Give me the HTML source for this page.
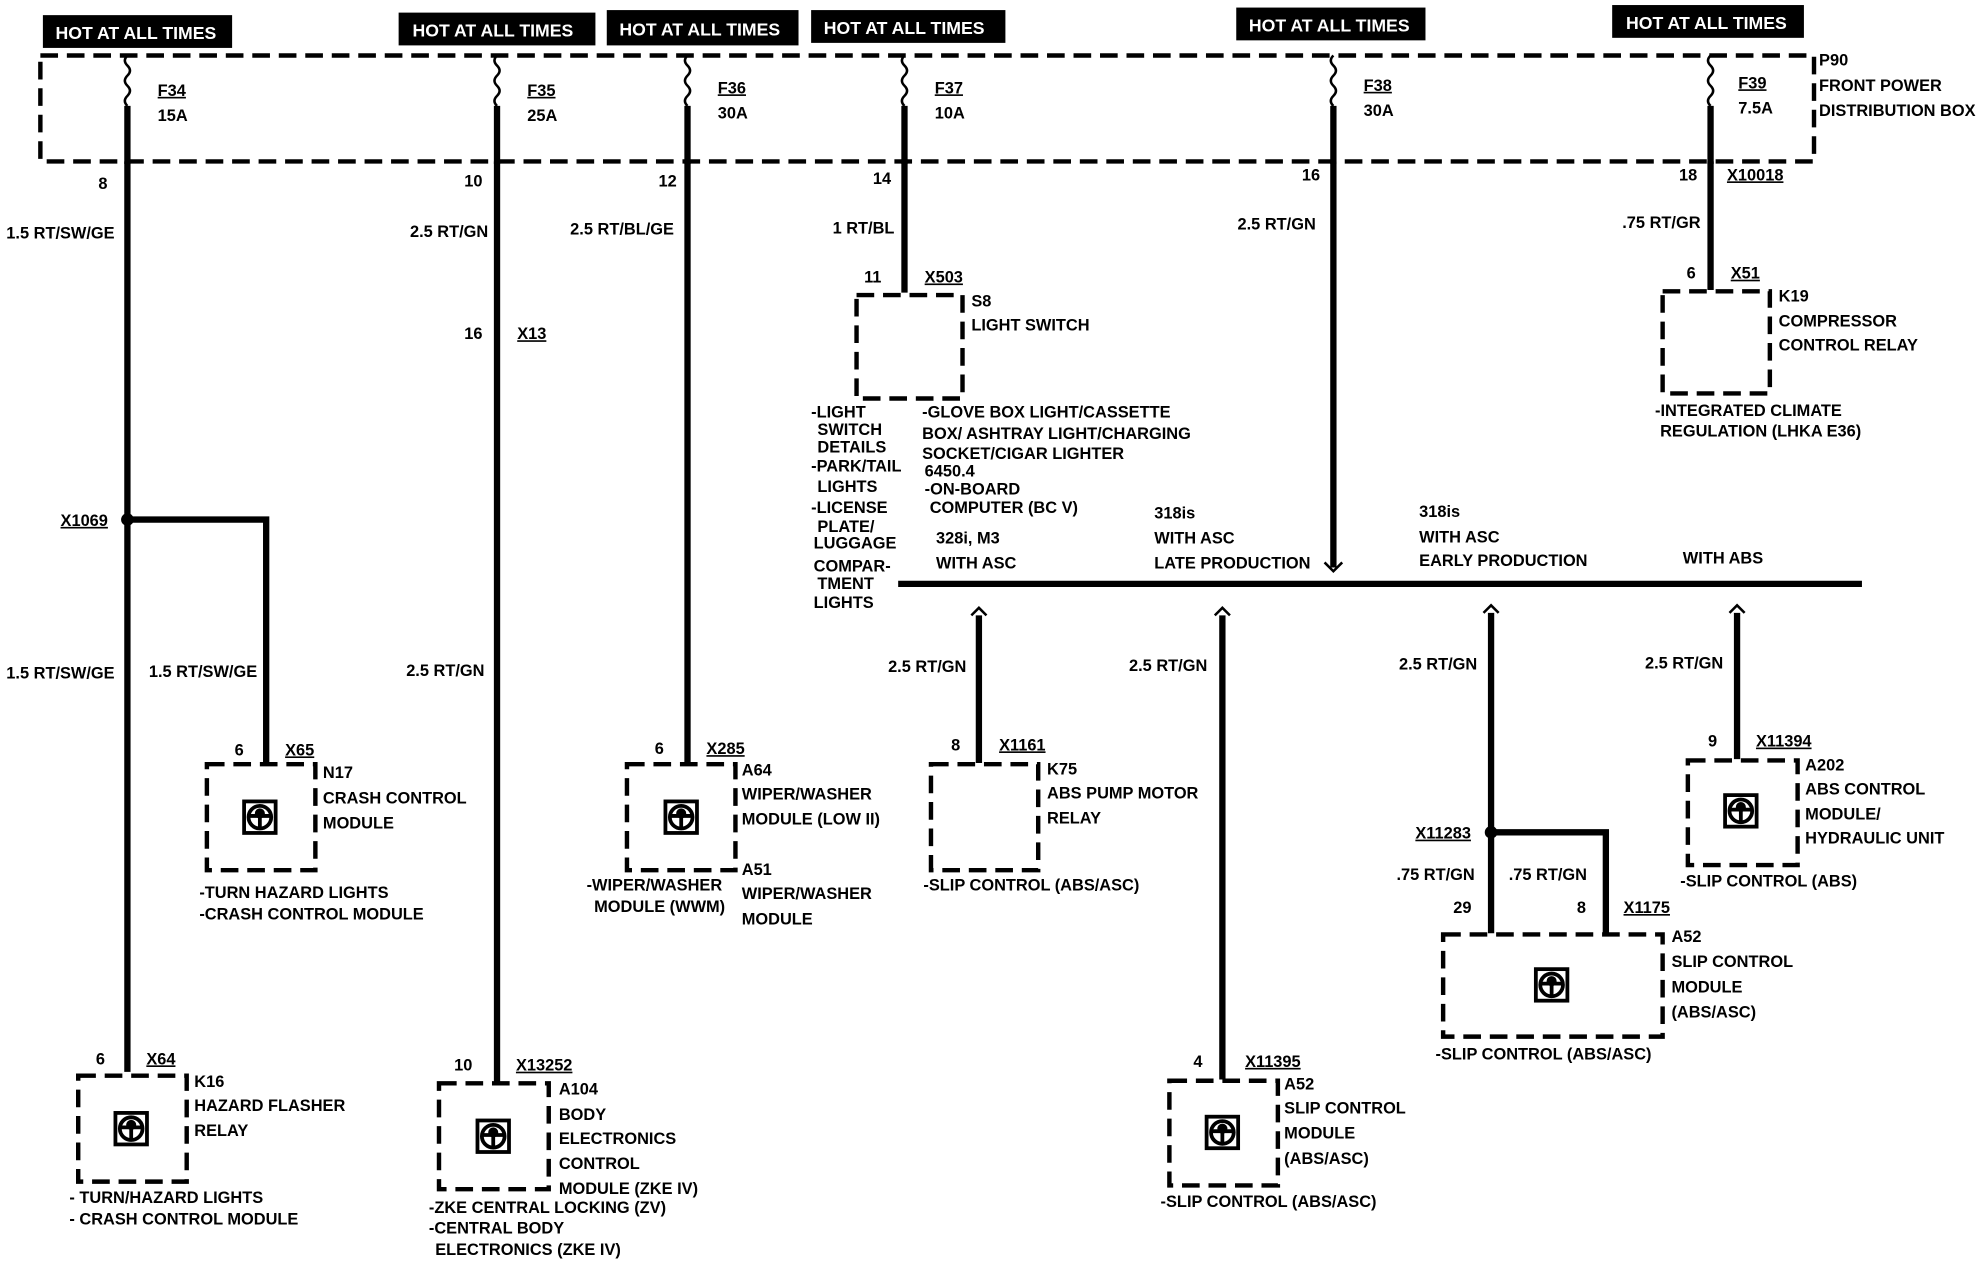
<!DOCTYPE html>
<html><head><meta charset="utf-8"><style>
html,body{margin:0;padding:0;background:#fff;}
svg{display:block;}
text{font-family:"Liberation Sans",sans-serif;font-weight:bold;font-size:13px;fill:#000;}
.w{fill:#fff;font-size:14px;}
.box{fill:none;stroke:#000;stroke-width:3.5;stroke-dasharray:14 7;}
.wire{stroke:#000;stroke-width:5;fill:none;}
.u{text-decoration:underline;}
</style></head><body>
<svg width="1978" height="1280" viewBox="0 0 1568 1015" preserveAspectRatio="none" xmlns="http://www.w3.org/2000/svg">
<defs>
<g id="ic"><rect x="-14" y="-14" width="28" height="28" fill="#000"/><rect x="-11" y="-11" width="22" height="22" fill="#fff"/><circle cx="0" cy="0" r="9" fill="none" stroke="#000" stroke-width="3"/><path d="M-9,-1 H9 M0,-1 V9" stroke="#000" stroke-width="3"/><circle cx="0" cy="-3" r="4" fill="#000"/></g>
<g id="fz"><path d="M0,44 q-4,4 0,8 q4,4 0,8 q-4,4 0,8 q4,4 0,8 q-4,4 0,8" stroke="#000" stroke-width="2" fill="none"/><path d="M0,84 V130" stroke="#000" stroke-width="5"/></g>
</defs>
<!-- HOT labels -->
<g>
<rect x="34" y="12" width="150" height="26" fill="#000"/><text class="w" x="44" y="31">HOT AT ALL TIMES</text>
<rect x="316" y="10" width="156" height="26" fill="#000"/><text class="w" x="327" y="29">HOT AT ALL TIMES</text>
<rect x="481" y="8" width="152" height="28" fill="#000"/><text class="w" x="491" y="28">HOT AT ALL TIMES</text>
<rect x="643" y="8" width="154" height="26" fill="#000"/><text class="w" x="653" y="27">HOT AT ALL TIMES</text>
<rect x="980" y="6" width="150" height="26" fill="#000"/><text class="w" x="990" y="25">HOT AT ALL TIMES</text>
<rect x="1278" y="4" width="152" height="26" fill="#000"/><text class="w" x="1289" y="23">HOT AT ALL TIMES</text>
</g>
<rect x="32" y="44" width="1406" height="84" class="box" stroke-width="4"/>
<text x="1442" y="52">P90</text><text x="1442" y="72">FRONT POWER</text><text x="1442" y="92">DISTRIBUTION BOX</text>
<!-- fuses -->
<use href="#fz" x="101"/><use href="#fz" x="394"/><use href="#fz" x="545"/><use href="#fz" x="717"/><use href="#fz" x="1057"/><use href="#fz" x="1356"/>
<text x="125" y="76" class="u">F34</text><text x="125" y="96">15A</text>
<text x="418" y="76" class="u">F35</text><text x="418" y="96">25A</text>
<text x="569" y="74" class="u">F36</text><text x="569" y="94">30A</text>
<text x="741" y="74" class="u">F37</text><text x="741" y="94">10A</text>
<text x="1081" y="72" class="u">F38</text><text x="1081" y="92">30A</text>
<text x="1378" y="70" class="u">F39</text><text x="1378" y="90">7.5A</text>
<!-- wire 1 -->
<path class="wire" d="M101,128 V850"/>
<path class="wire" d="M101,412 H211 V605"/>
<circle cx="101" cy="412" r="5" fill="#000"/>
<text x="78" y="150">8</text><text x="5" y="189">1.5 RT/SW/GE</text>
<text x="48" y="417" class="u">X1069</text>
<text x="5" y="538">1.5 RT/SW/GE</text><text x="118" y="537">1.5 RT/SW/GE</text>
<text x="186" y="599">6</text><text x="226" y="599" class="u">X65</text>
<rect x="164" y="606" width="86" height="84" class="box"/><use href="#ic" x="206" y="648"/>
<text x="256" y="617">N17</text><text x="256" y="637">CRASH CONTROL</text><text x="256" y="657">MODULE</text>
<text x="158" y="712">-TURN HAZARD LIGHTS</text><text x="158" y="729">-CRASH CONTROL MODULE</text>
<text x="76" y="844">6</text><text x="116" y="844" class="u">X64</text>
<rect x="62" y="853" width="86" height="84" class="box"/><use href="#ic" x="104" y="895"/>
<text x="154" y="862">K16</text><text x="154" y="881">HAZARD FLASHER</text><text x="154" y="901">RELAY</text>
<text x="55" y="954">- TURN/HAZARD LIGHTS</text><text x="55" y="971">- CRASH CONTROL MODULE</text>
<!-- wire 2 -->
<path class="wire" d="M394,128 V858"/>
<text x="368" y="148">10</text><text x="325" y="188">2.5 RT/GN</text>
<text x="368" y="269">16</text><text x="410" y="269" class="u">X13</text>
<text x="322" y="536">2.5 RT/GN</text>
<text x="360" y="849">10</text><text x="409" y="849" class="u">X13252</text>
<rect x="348" y="859" width="87" height="84" class="box"/><use href="#ic" x="391" y="901"/>
<text x="443" y="868">A104</text><text x="443" y="888">BODY</text><text x="443" y="907">ELECTRONICS</text><text x="443" y="927">CONTROL</text><text x="443" y="947">MODULE (ZKE IV)</text>
<text x="340" y="962">-ZKE CENTRAL LOCKING (ZV)</text><text x="340" y="978">-CENTRAL BODY</text><text x="345" y="995">ELECTRONICS (ZKE IV)</text>
<!-- wire 3 -->
<path class="wire" d="M545,128 V605"/>
<text x="522" y="148">12</text><text x="452" y="186">2.5 RT/BL/GE</text>
<text x="519" y="598">6</text><text x="560" y="598" class="u">X285</text>
<rect x="497" y="606" width="86" height="84" class="box"/><use href="#ic" x="540" y="648"/>
<text x="588" y="615">A64</text><text x="588" y="634">WIPER/WASHER</text><text x="588" y="654">MODULE (LOW II)</text>
<text x="588" y="694">A51</text><text x="588" y="713">WIPER/WASHER</text><text x="588" y="733">MODULE</text>
<text x="465" y="706">-WIPER/WASHER</text><text x="471" y="723">MODULE (WWM)</text>
<!-- wire 4 -->
<path class="wire" d="M717,128 V232"/>
<text x="692" y="146">14</text><text x="660" y="185">1 RT/BL</text>
<text x="685" y="224">11</text><text x="733" y="224" class="u">X503</text>
<rect x="679" y="234" width="84" height="82" class="box"/>
<text x="770" y="243">S8</text><text x="770" y="262">LIGHT SWITCH</text>
<text x="643" y="331">-LIGHT</text><text x="648" y="345">SWITCH</text><text x="648" y="359">DETAILS</text><text x="643" y="374">-PARK/TAIL</text><text x="648" y="390">LIGHTS</text><text x="643" y="407">-LICENSE</text><text x="648" y="422">PLATE/</text><text x="645" y="435">LUGGAGE</text><text x="645" y="453">COMPAR-</text><text x="648" y="467">TMENT</text><text x="645" y="482">LIGHTS</text>
<text x="731" y="331">-GLOVE BOX LIGHT/CASSETTE</text><text x="731" y="348">BOX/ ASHTRAY LIGHT/CHARGING</text><text x="731" y="364">SOCKET/CIGAR LIGHTER</text><text x="733" y="378">6450.4</text><text x="733" y="392">-ON-BOARD</text><text x="737" y="407">COMPUTER (BC V)</text>
<!-- wire 5 -->
<path class="wire" d="M1057,128 V450"/>
<path d="M1050,446 L1057,453 L1064,446" stroke="#000" stroke-width="2" fill="none"/>
<path class="wire" d="M712,463 H1476" stroke-width="4"/>
<text x="1032" y="143">16</text><text x="981" y="182">2.5 RT/GN</text>
<text x="742" y="431">328i, M3</text><text x="742" y="451">WITH ASC</text>
<text x="915" y="411">318is</text><text x="915" y="431">WITH ASC</text><text x="915" y="451">LATE PRODUCTION</text>
<text x="1125" y="410">318is</text><text x="1125" y="430">WITH ASC</text><text x="1125" y="449">EARLY PRODUCTION</text>
<text x="1334" y="447">WITH ABS</text>
<!-- branch K75 -->
<path class="wire" d="M776,488 V605"/><path d="M770,488 L776,482 L782,488" stroke="#000" stroke-width="2" fill="none"/>
<text x="704" y="533">2.5 RT/GN</text>
<text x="754" y="595">8</text><text x="792" y="595" class="u">X1161</text>
<rect x="738" y="606" width="85" height="84" class="box"/>
<text x="830" y="614">K75</text><text x="830" y="633">ABS PUMP MOTOR</text><text x="830" y="653">RELAY</text>
<text x="732" y="706">-SLIP CONTROL (ABS/ASC)</text>
<!-- branch A52 lower -->
<path class="wire" d="M969,488 V856"/><path d="M963,488 L969,482 L975,488" stroke="#000" stroke-width="2" fill="none"/>
<text x="895" y="532">2.5 RT/GN</text>
<text x="946" y="846">4</text><text x="987" y="846" class="u">X11395</text>
<rect x="927" y="857" width="86" height="83" class="box"/><use href="#ic" x="969" y="898"/>
<text x="1018" y="864">A52</text><text x="1018" y="883">SLIP CONTROL</text><text x="1018" y="903">MODULE</text><text x="1018" y="923">(ABS/ASC)</text>
<text x="920" y="957">-SLIP CONTROL (ABS/ASC)</text>
<!-- branch A52 upper -->
<path class="wire" d="M1182,486 V740"/><path d="M1176,486 L1182,480 L1188,486" stroke="#000" stroke-width="2" fill="none"/>
<path class="wire" d="M1182,660 H1273 V740"/>
<circle cx="1182" cy="660" r="5" fill="#000"/>
<text x="1109" y="531">2.5 RT/GN</text>
<text x="1122" y="665" class="u">X11283</text>
<text x="1107" y="698">.75 RT/GN</text><text x="1196" y="698">.75 RT/GN</text>
<text x="1152" y="724">29</text><text x="1250" y="724">8</text><text x="1287" y="724" class="u">X1175</text>
<rect x="1144" y="741" width="174" height="81" class="box"/><use href="#ic" x="1230" y="781"/>
<text x="1325" y="747">A52</text><text x="1325" y="767">SLIP CONTROL</text><text x="1325" y="787">MODULE</text><text x="1325" y="807">(ABS/ASC)</text>
<text x="1138" y="840">-SLIP CONTROL (ABS/ASC)</text>
<!-- branch A202 -->
<path class="wire" d="M1377,486 V602"/><path d="M1371,486 L1377,480 L1383,486" stroke="#000" stroke-width="2" fill="none"/>
<text x="1304" y="530">2.5 RT/GN</text>
<text x="1354" y="592">9</text><text x="1392" y="592" class="u">X11394</text>
<rect x="1338" y="603" width="87" height="83" class="box"/><use href="#ic" x="1380" y="643"/>
<text x="1431" y="611">A202</text><text x="1431" y="630">ABS CONTROL</text><text x="1431" y="650">MODULE/</text><text x="1431" y="669">HYDRAULIC UNIT</text>
<text x="1332" y="703">-SLIP CONTROL (ABS)</text>
<!-- wire 6 -->
<path class="wire" d="M1356,128 V230"/>
<text x="1331" y="143">18</text><text x="1369" y="143" class="u">X10018</text>
<text x="1286" y="181">.75 RT/GR</text>
<text x="1337" y="221">6</text><text x="1372" y="221" class="u">X51</text>
<rect x="1318" y="231" width="85" height="81" class="box"/>
<text x="1410" y="239">K19</text><text x="1410" y="259">COMPRESSOR</text><text x="1410" y="278">CONTROL RELAY</text>
<text x="1312" y="330">-INTEGRATED CLIMATE</text><text x="1316" y="346">REGULATION (LHKA E36)</text>
</svg>
</body></html>
